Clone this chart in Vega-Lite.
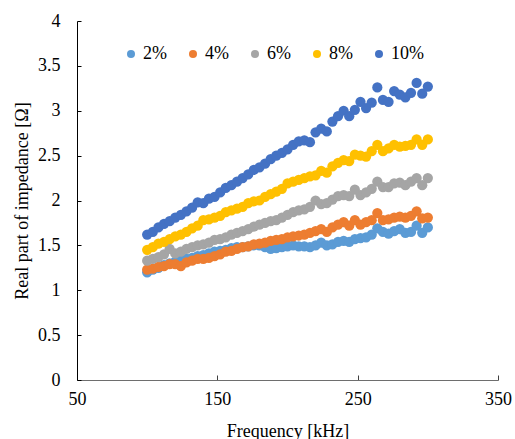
{
  "$schema": "https://vega.github.io/schema/vega-lite/v6.json",
  "width": 421,
  "height": 359,
  "autosize": {"type": "none"},
  "padding": {"left": 77, "top": 21, "right": 17, "bottom": 59},
  "background": "white",
  "config": {
    "view": {"stroke": null},
    "font": "Times New Roman",
    "axis": {"labelFont": "Times New Roman", "titleFont": "Times New Roman", "labelFontSize": 18, "titleFontSize": 18, "labelColor": "#000", "titleColor": "#000", "titleFontWeight": "normal", "grid": false},
    "legend": {"labelFont": "Times New Roman", "labelFontSize": 18, "labelColor": "#000"}
  },
  "data": {"values": [
    {"f":100,"s":"2%","r":1.20},{"f":104,"s":"2%","r":1.23},{"f":108,"s":"2%","r":1.25},{"f":112,"s":"2%","r":1.28},{"f":116,"s":"2%","r":1.30},{"f":120,"s":"2%","r":1.32},{"f":124,"s":"2%","r":1.34},{"f":128,"s":"2%","r":1.35},{"f":132,"s":"2%","r":1.36},{"f":136,"s":"2%","r":1.38},{"f":140,"s":"2%","r":1.39},{"f":144,"s":"2%","r":1.41},{"f":148,"s":"2%","r":1.43},{"f":152,"s":"2%","r":1.44},{"f":156,"s":"2%","r":1.45},{"f":160,"s":"2%","r":1.47},{"f":164,"s":"2%","r":1.48},{"f":168,"s":"2%","r":1.48},{"f":172,"s":"2%","r":1.49},{"f":176,"s":"2%","r":1.50},{"f":180,"s":"2%","r":1.50},{"f":184,"s":"2%","r":1.48},{"f":188,"s":"2%","r":1.46},{"f":192,"s":"2%","r":1.47},{"f":196,"s":"2%","r":1.48},{"f":200,"s":"2%","r":1.49},{"f":204,"s":"2%","r":1.50},{"f":208,"s":"2%","r":1.49},{"f":212,"s":"2%","r":1.49},{"f":216,"s":"2%","r":1.48},{"f":220,"s":"2%","r":1.50},{"f":224,"s":"2%","r":1.53},{"f":228,"s":"2%","r":1.50},{"f":232,"s":"2%","r":1.51},{"f":236,"s":"2%","r":1.54},{"f":240,"s":"2%","r":1.55},{"f":244,"s":"2%","r":1.54},{"f":248,"s":"2%","r":1.57},{"f":252,"s":"2%","r":1.58},{"f":256,"s":"2%","r":1.59},{"f":260,"s":"2%","r":1.62},{"f":264,"s":"2%","r":1.69},{"f":268,"s":"2%","r":1.65},{"f":272,"s":"2%","r":1.63},{"f":276,"s":"2%","r":1.66},{"f":280,"s":"2%","r":1.68},{"f":284,"s":"2%","r":1.64},{"f":288,"s":"2%","r":1.65},{"f":292,"s":"2%","r":1.72},{"f":296,"s":"2%","r":1.64},{"f":300,"s":"2%","r":1.70},
    {"f":100,"s":"4%","r":1.23},{"f":104,"s":"4%","r":1.24},{"f":108,"s":"4%","r":1.26},{"f":112,"s":"4%","r":1.27},{"f":116,"s":"4%","r":1.29},{"f":120,"s":"4%","r":1.29},{"f":124,"s":"4%","r":1.27},{"f":128,"s":"4%","r":1.31},{"f":132,"s":"4%","r":1.33},{"f":136,"s":"4%","r":1.35},{"f":140,"s":"4%","r":1.35},{"f":144,"s":"4%","r":1.36},{"f":148,"s":"4%","r":1.38},{"f":152,"s":"4%","r":1.40},{"f":156,"s":"4%","r":1.43},{"f":160,"s":"4%","r":1.44},{"f":164,"s":"4%","r":1.46},{"f":168,"s":"4%","r":1.48},{"f":172,"s":"4%","r":1.49},{"f":176,"s":"4%","r":1.51},{"f":180,"s":"4%","r":1.52},{"f":184,"s":"4%","r":1.53},{"f":188,"s":"4%","r":1.55},{"f":192,"s":"4%","r":1.56},{"f":196,"s":"4%","r":1.57},{"f":200,"s":"4%","r":1.59},{"f":204,"s":"4%","r":1.60},{"f":208,"s":"4%","r":1.61},{"f":212,"s":"4%","r":1.62},{"f":216,"s":"4%","r":1.64},{"f":220,"s":"4%","r":1.66},{"f":224,"s":"4%","r":1.68},{"f":228,"s":"4%","r":1.65},{"f":232,"s":"4%","r":1.70},{"f":236,"s":"4%","r":1.73},{"f":240,"s":"4%","r":1.76},{"f":244,"s":"4%","r":1.72},{"f":248,"s":"4%","r":1.78},{"f":252,"s":"4%","r":1.73},{"f":256,"s":"4%","r":1.76},{"f":260,"s":"4%","r":1.78},{"f":264,"s":"4%","r":1.86},{"f":268,"s":"4%","r":1.78},{"f":272,"s":"4%","r":1.79},{"f":276,"s":"4%","r":1.81},{"f":280,"s":"4%","r":1.82},{"f":284,"s":"4%","r":1.81},{"f":288,"s":"4%","r":1.83},{"f":292,"s":"4%","r":1.88},{"f":296,"s":"4%","r":1.80},{"f":300,"s":"4%","r":1.81},
    {"f":100,"s":"6%","r":1.33},{"f":104,"s":"6%","r":1.35},{"f":108,"s":"6%","r":1.37},{"f":112,"s":"6%","r":1.40},{"f":116,"s":"6%","r":1.46},{"f":120,"s":"6%","r":1.41},{"f":124,"s":"6%","r":1.43},{"f":128,"s":"6%","r":1.46},{"f":132,"s":"6%","r":1.48},{"f":136,"s":"6%","r":1.50},{"f":140,"s":"6%","r":1.51},{"f":144,"s":"6%","r":1.53},{"f":148,"s":"6%","r":1.56},{"f":152,"s":"6%","r":1.57},{"f":156,"s":"6%","r":1.59},{"f":160,"s":"6%","r":1.62},{"f":164,"s":"6%","r":1.64},{"f":168,"s":"6%","r":1.66},{"f":172,"s":"6%","r":1.68},{"f":176,"s":"6%","r":1.71},{"f":180,"s":"6%","r":1.73},{"f":184,"s":"6%","r":1.75},{"f":188,"s":"6%","r":1.77},{"f":192,"s":"6%","r":1.78},{"f":196,"s":"6%","r":1.81},{"f":200,"s":"6%","r":1.84},{"f":204,"s":"6%","r":1.87},{"f":208,"s":"6%","r":1.89},{"f":212,"s":"6%","r":1.90},{"f":216,"s":"6%","r":1.93},{"f":220,"s":"6%","r":2.00},{"f":224,"s":"6%","r":1.96},{"f":228,"s":"6%","r":1.97},{"f":232,"s":"6%","r":2.01},{"f":236,"s":"6%","r":2.05},{"f":240,"s":"6%","r":2.06},{"f":244,"s":"6%","r":2.05},{"f":248,"s":"6%","r":2.12},{"f":252,"s":"6%","r":2.06},{"f":256,"s":"6%","r":2.09},{"f":260,"s":"6%","r":2.13},{"f":264,"s":"6%","r":2.21},{"f":268,"s":"6%","r":2.15},{"f":272,"s":"6%","r":2.15},{"f":276,"s":"6%","r":2.19},{"f":280,"s":"6%","r":2.20},{"f":284,"s":"6%","r":2.17},{"f":288,"s":"6%","r":2.21},{"f":292,"s":"6%","r":2.25},{"f":296,"s":"6%","r":2.17},{"f":300,"s":"6%","r":2.25},
    {"f":100,"s":"8%","r":1.45},{"f":104,"s":"8%","r":1.48},{"f":108,"s":"8%","r":1.52},{"f":112,"s":"8%","r":1.54},{"f":116,"s":"8%","r":1.57},{"f":120,"s":"8%","r":1.60},{"f":124,"s":"8%","r":1.62},{"f":128,"s":"8%","r":1.65},{"f":132,"s":"8%","r":1.69},{"f":136,"s":"8%","r":1.72},{"f":140,"s":"8%","r":1.78},{"f":144,"s":"8%","r":1.79},{"f":148,"s":"8%","r":1.81},{"f":152,"s":"8%","r":1.83},{"f":156,"s":"8%","r":1.87},{"f":160,"s":"8%","r":1.89},{"f":164,"s":"8%","r":1.91},{"f":168,"s":"8%","r":1.93},{"f":172,"s":"8%","r":1.97},{"f":176,"s":"8%","r":1.99},{"f":180,"s":"8%","r":2.00},{"f":184,"s":"8%","r":2.04},{"f":188,"s":"8%","r":2.07},{"f":192,"s":"8%","r":2.10},{"f":196,"s":"8%","r":2.13},{"f":200,"s":"8%","r":2.19},{"f":204,"s":"8%","r":2.21},{"f":208,"s":"8%","r":2.23},{"f":212,"s":"8%","r":2.25},{"f":216,"s":"8%","r":2.27},{"f":220,"s":"8%","r":2.28},{"f":224,"s":"8%","r":2.33},{"f":228,"s":"8%","r":2.31},{"f":232,"s":"8%","r":2.38},{"f":236,"s":"8%","r":2.42},{"f":240,"s":"8%","r":2.45},{"f":244,"s":"8%","r":2.44},{"f":248,"s":"8%","r":2.51},{"f":252,"s":"8%","r":2.50},{"f":256,"s":"8%","r":2.49},{"f":260,"s":"8%","r":2.55},{"f":264,"s":"8%","r":2.62},{"f":268,"s":"8%","r":2.55},{"f":272,"s":"8%","r":2.58},{"f":276,"s":"8%","r":2.62},{"f":280,"s":"8%","r":2.60},{"f":284,"s":"8%","r":2.61},{"f":288,"s":"8%","r":2.62},{"f":292,"s":"8%","r":2.68},{"f":296,"s":"8%","r":2.62},{"f":300,"s":"8%","r":2.68},
    {"f":100,"s":"10%","r":1.62},{"f":104,"s":"10%","r":1.65},{"f":108,"s":"10%","r":1.70},{"f":112,"s":"10%","r":1.74},{"f":116,"s":"10%","r":1.77},{"f":120,"s":"10%","r":1.81},{"f":124,"s":"10%","r":1.84},{"f":128,"s":"10%","r":1.88},{"f":132,"s":"10%","r":1.92},{"f":136,"s":"10%","r":1.98},{"f":140,"s":"10%","r":1.97},{"f":144,"s":"10%","r":2.02},{"f":148,"s":"10%","r":2.04},{"f":152,"s":"10%","r":2.09},{"f":156,"s":"10%","r":2.14},{"f":160,"s":"10%","r":2.17},{"f":164,"s":"10%","r":2.21},{"f":168,"s":"10%","r":2.25},{"f":172,"s":"10%","r":2.29},{"f":176,"s":"10%","r":2.34},{"f":180,"s":"10%","r":2.37},{"f":184,"s":"10%","r":2.41},{"f":188,"s":"10%","r":2.46},{"f":192,"s":"10%","r":2.50},{"f":196,"s":"10%","r":2.53},{"f":200,"s":"10%","r":2.57},{"f":204,"s":"10%","r":2.62},{"f":208,"s":"10%","r":2.66},{"f":212,"s":"10%","r":2.67},{"f":216,"s":"10%","r":2.65},{"f":220,"s":"10%","r":2.76},{"f":224,"s":"10%","r":2.80},{"f":228,"s":"10%","r":2.77},{"f":232,"s":"10%","r":2.88},{"f":236,"s":"10%","r":2.94},{"f":240,"s":"10%","r":3.00},{"f":244,"s":"10%","r":2.94},{"f":248,"s":"10%","r":3.01},{"f":252,"s":"10%","r":3.10},{"f":256,"s":"10%","r":3.03},{"f":260,"s":"10%","r":3.09},{"f":264,"s":"10%","r":3.26},{"f":268,"s":"10%","r":3.12},{"f":272,"s":"10%","r":3.10},{"f":276,"s":"10%","r":3.22},{"f":280,"s":"10%","r":3.18},{"f":284,"s":"10%","r":3.15},{"f":288,"s":"10%","r":3.20},{"f":292,"s":"10%","r":3.31},{"f":296,"s":"10%","r":3.19},{"f":300,"s":"10%","r":3.27}
  ]},
  "mark": {"type": "point", "shape": "circle", "filled": true, "opacity": 1, "size": 105},
  "encoding": {
    "x": {"field": "f", "type": "quantitative", "scale": {"domain": [50, 350], "nice": false, "zero": false},
      "axis": {"title": "Frequency [kHz]", "values": [50, 150, 250, 350], "tickSize": -5, "labelPadding": 15, "domainColor": "#6e6e6e", "tickColor": "#404040", "titlePadding": 14, "labelFlush": false}},
    "y": {"field": "r", "type": "quantitative", "scale": {"domain": [0, 4], "nice": false},
      "axis": {"title": "Real part of impedance [Ω]", "values": [0, 0.5, 1, 1.5, 2, 2.5, 3, 3.5, 4], "format": "~g", "tickSize": -4, "labelPadding": 21, "domainColor": "#000", "tickColor": "#000", "titlePadding": 6, "labelFlush": false}},
    "color": {"field": "s", "type": "nominal", "sort": ["2%", "4%", "6%", "8%", "10%"],
      "scale": {"domain": ["2%", "4%", "6%", "8%", "10%"], "range": ["#5B9BD5", "#ED7D31", "#A5A5A5", "#FFC000", "#4472C4"]},
      "legend": {"title": null, "orient": "none", "direction": "horizontal", "legendX": 45, "legendY": 24, "symbolType": "circle", "symbolSize": 64, "symbolStrokeWidth": 0, "symbolOpacity": 1, "labelOffset": 3, "columnPadding": 17}}
  }
}
